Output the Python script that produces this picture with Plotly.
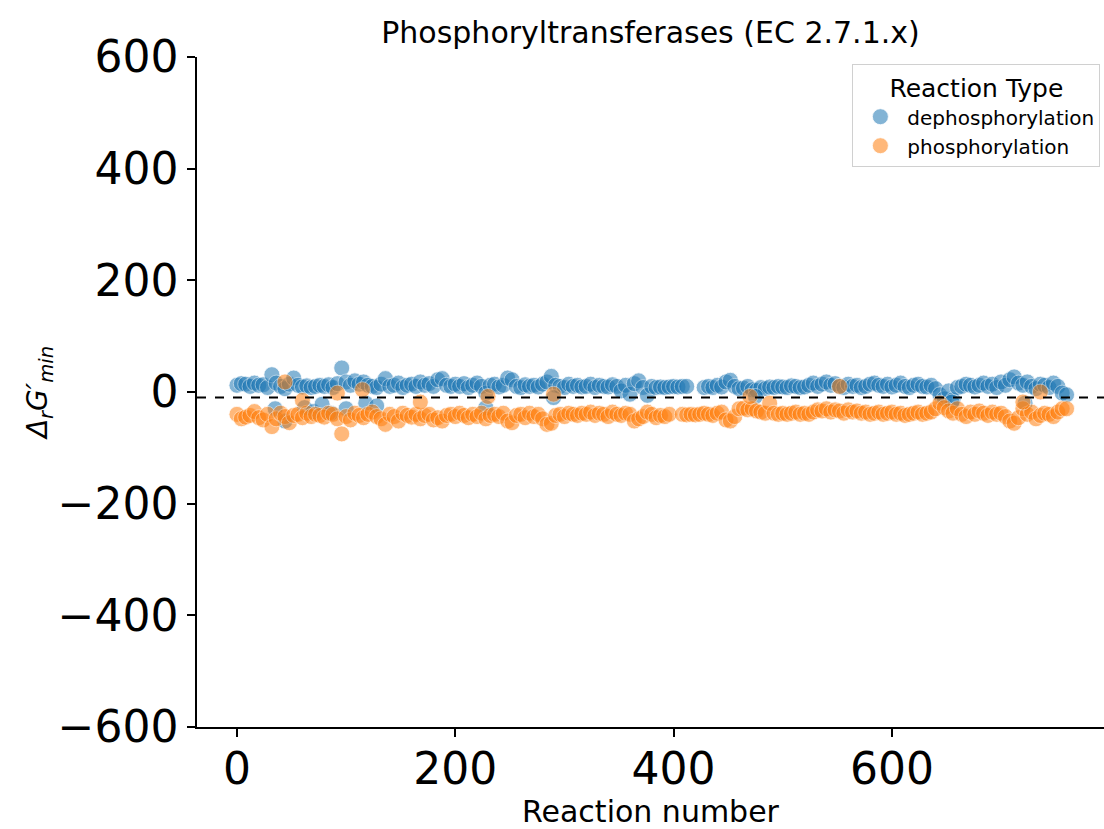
import plotly.graph_objects as go

# Reaction numbers sampled along the x axis
reactions = list(range(0, 761, 4))

# Delta_r G'_min estimates
dephosphorylation = [
    12, 15, 14, 10, 16, 12, 13, 8, 31, 16,
    10, 6, 14, 25, 12, 9, 11, 8, 10, 12,
    10, 13, 8, 15, 43, 18, 12, 20, 14, 18,
    12, 10, 8, 14, 24, 10, 12, 16, 8, 12,
    14, 10, 18, 12, 15, 10, 22, 24, 12, 10,
    14, 10, 15, 8, 12, 16, 10, -2, 12, 14,
    9, 12, 25, 22, 10, 8, 13, 10, 12, 9,
    14, 18, 28, 12, 10, 8, 14, 10, 12, 9,
    10, 14, 8, 12, 10, 9, 13, 10, 2, 12,
    -4, 15, 20, 8, -6, 10, 8, 9, 8, 9,
    10, 9, 10, 10, None, None, None, 8, 10, 8,
    12, 9, 18, 21, 10, 6, 7, 10, 4, 3,
    8, 6, 9, 8, 10, 9, 8, 11, 10, 8,
    9, 12, 16, 10, 14, 18, 12, 15, 10, 8,
    14, 10, 12, 8, 10, 14, 16, 12, 10, 14,
    9, 12, 16, 10, 8, 12, 14, 10, 9, 12,
    6, -5, -12, 2, -14, 8, 10, 14, 12, 9,
    12, 16, 10, 14, 8, 18, 12, 22, 27, 16,
    12, 18, 10, 6, 14, 12, 8, 16, 10, -2, -5,
]

phosphorylation = [
    -40, -48, -45, -42, -35, -46, -50, -40, -62, -48,
    -38, -44, -55, -42, -40, -46, -38, -44, -40, -42,
    -45, -38, -40, -48, -75, -44, -50, -38, -42, -46,
    -40, -36, -44, -48, -58, -40, -44, -52, -38, -42,
    -45, -40, -48, -42, -40, -50, -46, -52, -42, -40,
    -44, -38, -42, -46, -40, -44, -38, -48, -42, -40,
    -44, -38, -52, -55, -42, -40, -46, -38, -44, -40,
    -48, -58, -56, -42, -40, -44, -38, -40, -42, -38,
    -40, -36, -42, -38, -40, -44, -36, -40, -42, -38,
    -40, -52, -48, -44, -36, -40, -46, -42, -44, -40,
    None, None, -40, -41, -40, -41, -40, -38, -40, -42,
    -38, -36, -50, -52, -44, -30, -29, -32, -30, -34,
    -36, -38, -20, -38, -40, -38, -40, -38, -36, -40,
    -38, -40, -36, -32, -34, -30, -36, -32, -34, -38,
    -32, -36, -34, -38, -36, -40, -38, -36, -40, -38,
    -36, -40, -38, -42, -40, -38, -36, -40, -38, -36,
    -30, -20, -28, -34, -38, -30, -40, -44, -36, -40,
    -34, -38, -42, -36, -40, -38, -44, -52, -56, -46,
    -30, -40, -36, -48, -42, -38, -40, -44, -36, -30, -30,
]

# Points that cross into the other band
dephos_extra_x = [35, 44, 62, 70, 78, 86, 100, 118, 128, 228, 290, 475, 655, 722]
dephos_extra_y = [-30, -52, -28, -35, -22, -38, -30, -20, -25, -28, -10, -8, -18, -20]
phos_extra_x = [44, 60, 92, 115, 168, 230, 290, 470, 552, 720, 736]
phos_extra_y = [18, -15, -2, 4, -18, -8, -4, -8, 10, -18, 0]

threshold = -10

x_ticks = [0, 200, 400, 600]
y_ticks = [600, 400, 200, 0, -200, -400, -600]

assert len(reactions) == len(dephosphorylation) == len(phosphorylation), (
    len(reactions), len(dephosphorylation), len(phosphorylation))

FONT = "DejaVu Sans"
BLUE = "#1f77b4"
ORANGE = "#ff7f0e"

fig = go.Figure()
fig.add_trace(go.Scatter(
    x=reactions + dephos_extra_x,
    y=dephosphorylation + dephos_extra_y,
    mode="markers",
    name="dephosphorylation",
    marker=dict(size=16, color=BLUE, opacity=0.55,
                line=dict(color="white", width=0.8)),
))
fig.add_trace(go.Scatter(
    x=reactions + phos_extra_x,
    y=phosphorylation + phos_extra_y,
    mode="markers",
    name="phosphorylation",
    marker=dict(size=16, color=ORANGE, opacity=0.55,
                line=dict(color="white", width=0.8)),
))

fig.add_shape(type="line", xref="paper", x0=0, x1=1, yref="y",
              y0=threshold, y1=threshold,
              line=dict(color="black", width=2, dash="dash"), layer="above")

fig.update_layout(
    width=1104, height=829,
    margin=dict(l=197, r=0, t=57, b=102),
    paper_bgcolor="white", plot_bgcolor="white",
    font=dict(family=FONT, color="black"),
    title=dict(text="Phosphoryltransferases (EC 2.7.1.x)",
               font=dict(size=30, family=FONT, color="black"),
               x=0.5, xref="paper", xanchor="center",
               y=1 - 32 / 829, yref="container", yanchor="middle"),
    showlegend=True,
    legend=dict(
        title=dict(text="Reaction Type", font=dict(size=25, family=FONT),
                   side="top center"),
        font=dict(size=20, family=FONT),
        x=0.996, y=0.99, xanchor="right", yanchor="top",
        bgcolor="rgba(255,255,255,0.8)", bordercolor="#d0d0d0", borderwidth=1,
        itemsizing="trace", itemwidth=44, tracegroupgap=2,
    ),
)

fig.update_xaxes(
    range=[-36.6, 794.3],
    tickmode="array", tickvals=x_ticks, ticktext=[str(v) for v in x_ticks],
    tickfont=dict(size=44, family=FONT),
    ticks="outside", ticklen=8, tickwidth=1.5, tickcolor="black",
    ticklabelstandoff=-6,
    showline=True, linecolor="black", linewidth=1.5,
    showgrid=False, zeroline=False,
    title=dict(text="Reaction number", font=dict(size=30, family=FONT), standoff=6),
)
fig.update_yaxes(
    range=[-600, 600],
    tickmode="array", tickvals=y_ticks,
    ticktext=[("\u2212" + str(-v)) if v < 0 else str(v) for v in y_ticks],
    tickfont=dict(size=44, family=FONT),
    ticks="outside", ticklen=8, tickwidth=1.5, tickcolor="black",
    showline=True, linecolor="black", linewidth=1.5,
    showgrid=False, zeroline=False,
    title=dict(text="<i>Δ<sub>r</sub>G′<sub>min</sub></i>",
               font=dict(size=28, family=FONT), standoff=2),
)

fig.write_html("out.html")
